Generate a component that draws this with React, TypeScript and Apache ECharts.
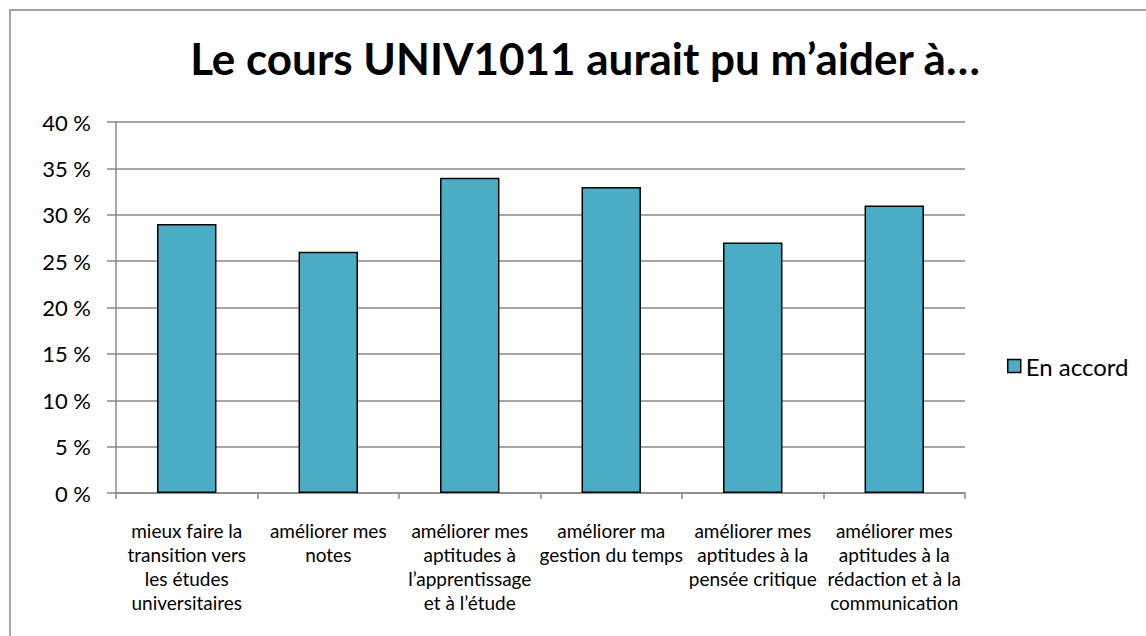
import React, { useEffect, useRef } from "react";
import * as echarts from "echarts";

const titleText = "Le cours UNIV1011 aurait pu m\u2019aider à…";
const categories = [
  "mieux faire la\ntransition vers\nles études\nuniversitaires",
  "améliorer mes\nnotes",
  "améliorer mes\naptitudes à\nl\u2019apprentissage\net à l\u2019étude",
  "améliorer ma\ngestion du temps",
  "améliorer mes\naptitudes à la\npensée critique",
  "améliorer mes\naptitudes à la\nrédaction et à la\ncommunication",
];
const seriesName = "En accord";
const values = [29, 26, 34, 33, 27, 31];
const yMin = 0;
const yMax = 40;
const yStep = 5;

const FONT = "Lato, 'Open Sans', sans-serif";

export default function App() {
  const ref = useRef<HTMLDivElement>(null);
  useEffect(() => {
    if (!ref.current) return;
    const chart = echarts.init(ref.current, null, { renderer: "svg" });
    chart.setOption({
      animation: false,
      backgroundColor: "#ffffff",
      textStyle: { fontFamily: FONT, color: "#000" },
      title: {
        text: titleText,
        left: 580,
        top: 31,
        textAlign: "center",
        textStyle: { fontFamily: FONT, fontSize: 44, fontWeight: "bold", color: "#000" },
      },
      graphic: [
        {
          type: "rect",
          shape: { x: 10, y: 10, width: 1200, height: 700 },
          style: { fill: "none", stroke: "#888888", lineWidth: 1.5 },
          silent: true,
          z: -1,
        },
      ],
      legend: {
        orient: "vertical",
        left: 1007,
        top: 354,
        padding: 0,
        itemWidth: 13,
        itemHeight: 13,
        icon: "rect",
        textStyle: { fontFamily: FONT, fontSize: 24, color: "#000" },
        data: [{ name: seriesName, itemStyle: { borderColor: "#000", borderWidth: 1.5 } }],
      },
      grid: { left: 116, right: 181, top: 122, bottom: 143, containLabel: false },
      xAxis: {
        type: "category",
        data: categories,
        axisLine: { show: true, lineStyle: { color: "#888888", width: 1.5 } },
        axisTick: { show: true, alignWithLabel: false, length: 6, lineStyle: { color: "#888888", width: 1.5 } },
        axisLabel: {
          interval: 0,
          margin: 25,
          fontFamily: FONT,
          fontSize: 19,
          lineHeight: 24,
          color: "#000",
          align: "center",
        },
      },
      yAxis: {
        type: "value",
        min: yMin,
        max: yMax,
        interval: yStep,
        axisLine: { show: true, lineStyle: { color: "#888888", width: 1.5 } },
        axisTick: { show: true, length: 9, lineStyle: { color: "#888888", width: 1.5 } },
        splitLine: { show: true, lineStyle: { color: "#888888", width: 1.5 } },
        axisLabel: {
          formatter: (v: number) => `${v} %`,
          margin: 25,
          fontFamily: FONT,
          fontSize: 22,
          color: "#000",
        },
      },
      series: [
        {
          name: seriesName,
          type: "bar",
          data: values,
          barWidth: "42%",
          itemStyle: { color: "#4BACC6", borderColor: "#000", borderWidth: 1.5 },
        },
      ],
    });
    return () => chart.dispose();
  }, []);
  return (
    <div
      ref={ref}
      style={{ position: "fixed", left: 0, top: 0, width: 1146, height: 636 }}
    />
  );
}
